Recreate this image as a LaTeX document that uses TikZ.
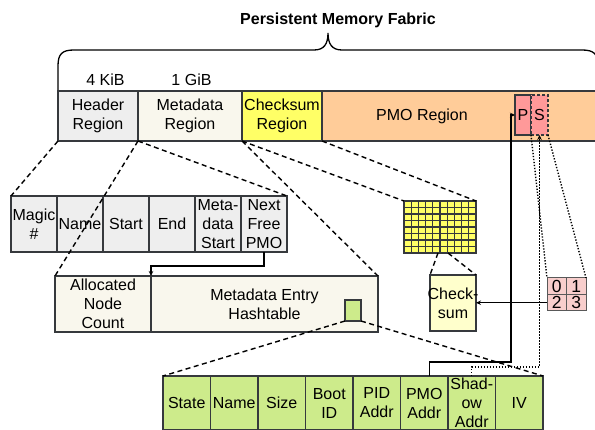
\documentclass[tikz,border=0pt]{standalone}
\usepackage{fontspec}
\setmainfont{Liberation Sans}
\usetikzlibrary{arrows.meta,calc}
\definecolor{bdr}{HTML}{36393D}
\definecolor{hgray}{HTML}{EEEEEE}
\definecolor{beige}{HTML}{F9F7ED}
\definecolor{ylw}{HTML}{FFFF66}
\definecolor{lylw}{HTML}{FFFFCC}
\definecolor{orng}{HTML}{FFCC99}
\definecolor{salmon}{HTML}{FF9999}
\definecolor{pinkc}{HTML}{F8CECC}
\definecolor{grn}{HTML}{CDEB8B}
\newcommand\fsz{\fontsize{16}{19}\selectfont}
\begin{document}
\begin{tikzpicture}[x=1pt,y=-1pt,
  box/.style={draw=bdr, line width=1.3pt, inner sep=0pt, outer sep=0pt, anchor=north west, align=center, font=\fsz},
  dashln/.style={line width=1.4pt, dash pattern=on 5pt off 3.5pt},
  dotln/.style={line width=1.4pt, dash pattern=on 1.3pt off 1.7pt},
  arr/.style={line width=1.3pt, -{Stealth[length=5pt,width=4.5pt]}},
  lbl/.style={font=\fsz, inner sep=0pt},
  cell/.style={box, draw=gray!70!black, line width=1pt, fill=pinkc, minimum width=19.5pt, minimum height=16.5pt, font=\fontsize{17.5}{17.5}\selectfont},
  fld/.style={box, fill=hgray, minimum width=46pt, minimum height=56pt},
  ent/.style={box, fill=grn, minimum width=47.5pt, minimum height=54pt},
]
\useasboundingbox (0,0) rectangle (595,430);

% title and brace
\node[font=\fsz\bfseries, inner sep=0pt] (title) at (338,20) {Persistent Memory Fabric};
\draw[line width=1.3pt] (58,90) -- (58,66) .. controls (58,54) and (62,50) .. (74,50)
  -- (314,50) .. controls (324,50) and (328,44) .. (328,33)
  .. controls (328,44) and (332,50) .. (342,50)
  -- (582,50) .. controls (594,50) and (598,54) .. (598,66) -- (598,90);
\node[lbl] (k4) at (105.5,80) {4 KiB};
\node[lbl] (g1) at (191.5,80) {1 GiB};

% top row
\node[box, fill=hgray, minimum width=80pt, minimum height=50pt] (hdr) at (58,91) {Header\\Region};
\node[box, fill=beige, minimum width=104pt, minimum height=50pt] (meta) at (138,91) {Metadata\\Region};
\node[box, fill=ylw, minimum width=80pt, minimum height=50pt] (cks) at (242,91) {Checksum\\Region};
\node[box, fill=orng, minimum width=290pt, minimum height=50pt] (pmo) at (322,91) {};
\node[lbl] (pmot) at (422,116) {PMO Region};
\node[box, fill=salmon, minimum width=16pt, minimum height=40pt] (P) at (515,95) {P};
\node[box, fill=salmon, dash pattern=on 3pt off 2pt, minimum width=17pt, minimum height=40pt] (S) at (531,95) {S};

% header fields
\node[fld] (magic) at (11,196) {Magic\\\#};
\node[fld] (name) at (57,196) {Name};
\node[fld] (start) at (103,196) {Start};
\node[fld] (end) at (149,196) {End};
\node[fld] (mstart) at (195,196) {Meta-\\data\\Start};
\node[fld] (nfree) at (241,196) {Next\\Free\\PMO};

% metadata hashtable
\node[box, fill=beige, minimum width=96pt, minimum height=56pt] (anc) at (55,276) {Allocated\\Node\\Count};
\node[box, fill=beige, minimum width=227pt, minimum height=56pt] (meh) at (151,276) {Metadata Entry\\Hashtable};
\node[box, fill=grn, minimum width=16pt, minimum height=21pt] (sq) at (345,300) {};

% checksum grid
\node[box, fill=ylw, minimum width=72pt, minimum height=52pt] (grid) at (404,201) {};
\foreach \i in {1,...,9}
  \draw[draw=bdr, line width=1.2pt] ($(grid.north west)!\i/10!(grid.north east)$) -- ($(grid.south west)!\i/10!(grid.south east)$);
\foreach \j in {1,...,7}
  \draw[draw=bdr, line width=1.2pt] ($(grid.north west)!\j/8!(grid.south west)$) -- ($(grid.north east)!\j/8!(grid.south east)$);
\node[box, fill=lylw, minimum width=46pt, minimum height=56pt] (ck) at (430,275) {\makebox[0pt]{Check-}\\sum};

% shadow cells
\node[cell] (c0) at (547,278) {0};
\node[cell] (c1) at (566.5,278) {1};
\node[cell] (c2) at (547,294.5) {2};
\node[cell] (c3) at (566.5,294.5) {3};

% metadata entry fields
\node[ent] (state) at (163,376) {State};
\node[ent] (bname) at (210.5,376) {Name};
\node[ent] (size) at (258,376) {Size};
\node[ent] (boot) at (305.5,376) {Boot\\ID};
\node[ent] (pid) at (353,376) {PID\\Addr};
\node[ent] (pmoa) at (400.5,376) {PMO\\Addr};
\node[ent] (shad) at (448,376) {Shad-\\ow\\Addr};
\node[ent] (iv) at (495.5,376) {IV};

% dashed zoom lines
\draw[dashln] (hdr.south west) -- (magic.north west);
\draw[dashln] (hdr.south east) -- (nfree.north east);
\draw[dashln] (meta.south west) -- (anc.north west);
\draw[dashln] (meta.south east) -- (meh.north east);
\draw[dashln] (cks.south west) -- (grid.north west);
\draw[dashln] (cks.south east) -- (grid.north east);
\draw[dashln] ([xshift=-2pt]grid.south) -- (ck.north west);
\draw[dashln] ([xshift=8pt]grid.south) -- (ck.north east);
\draw[dashln] (sq.south west) -- (state.north west);
\draw[dashln] (sq.south east) -- (iv.north east);

% dotted lines
\draw[dotln] (S.south west) -- (c0.north west);
\draw[dotln] (S.south east) -- (c1.north east);
\draw[dotln, -{Stealth[length=5pt,width=4.5pt]}] (shad.north) -- ++(0,-9) -| (S.south);

% arrows
\draw[arr] (nfree.south) -- ++(0,14) -| (meh.north west);
\draw[arr] ([xshift=5pt]pmoa.north) -- ++(0,-14) -| ([xshift=-4pt]P.west) -- (P.west);
\draw[arr] (c2.west) -- (ck.east |- c2.west);
\end{tikzpicture}
\end{document}
